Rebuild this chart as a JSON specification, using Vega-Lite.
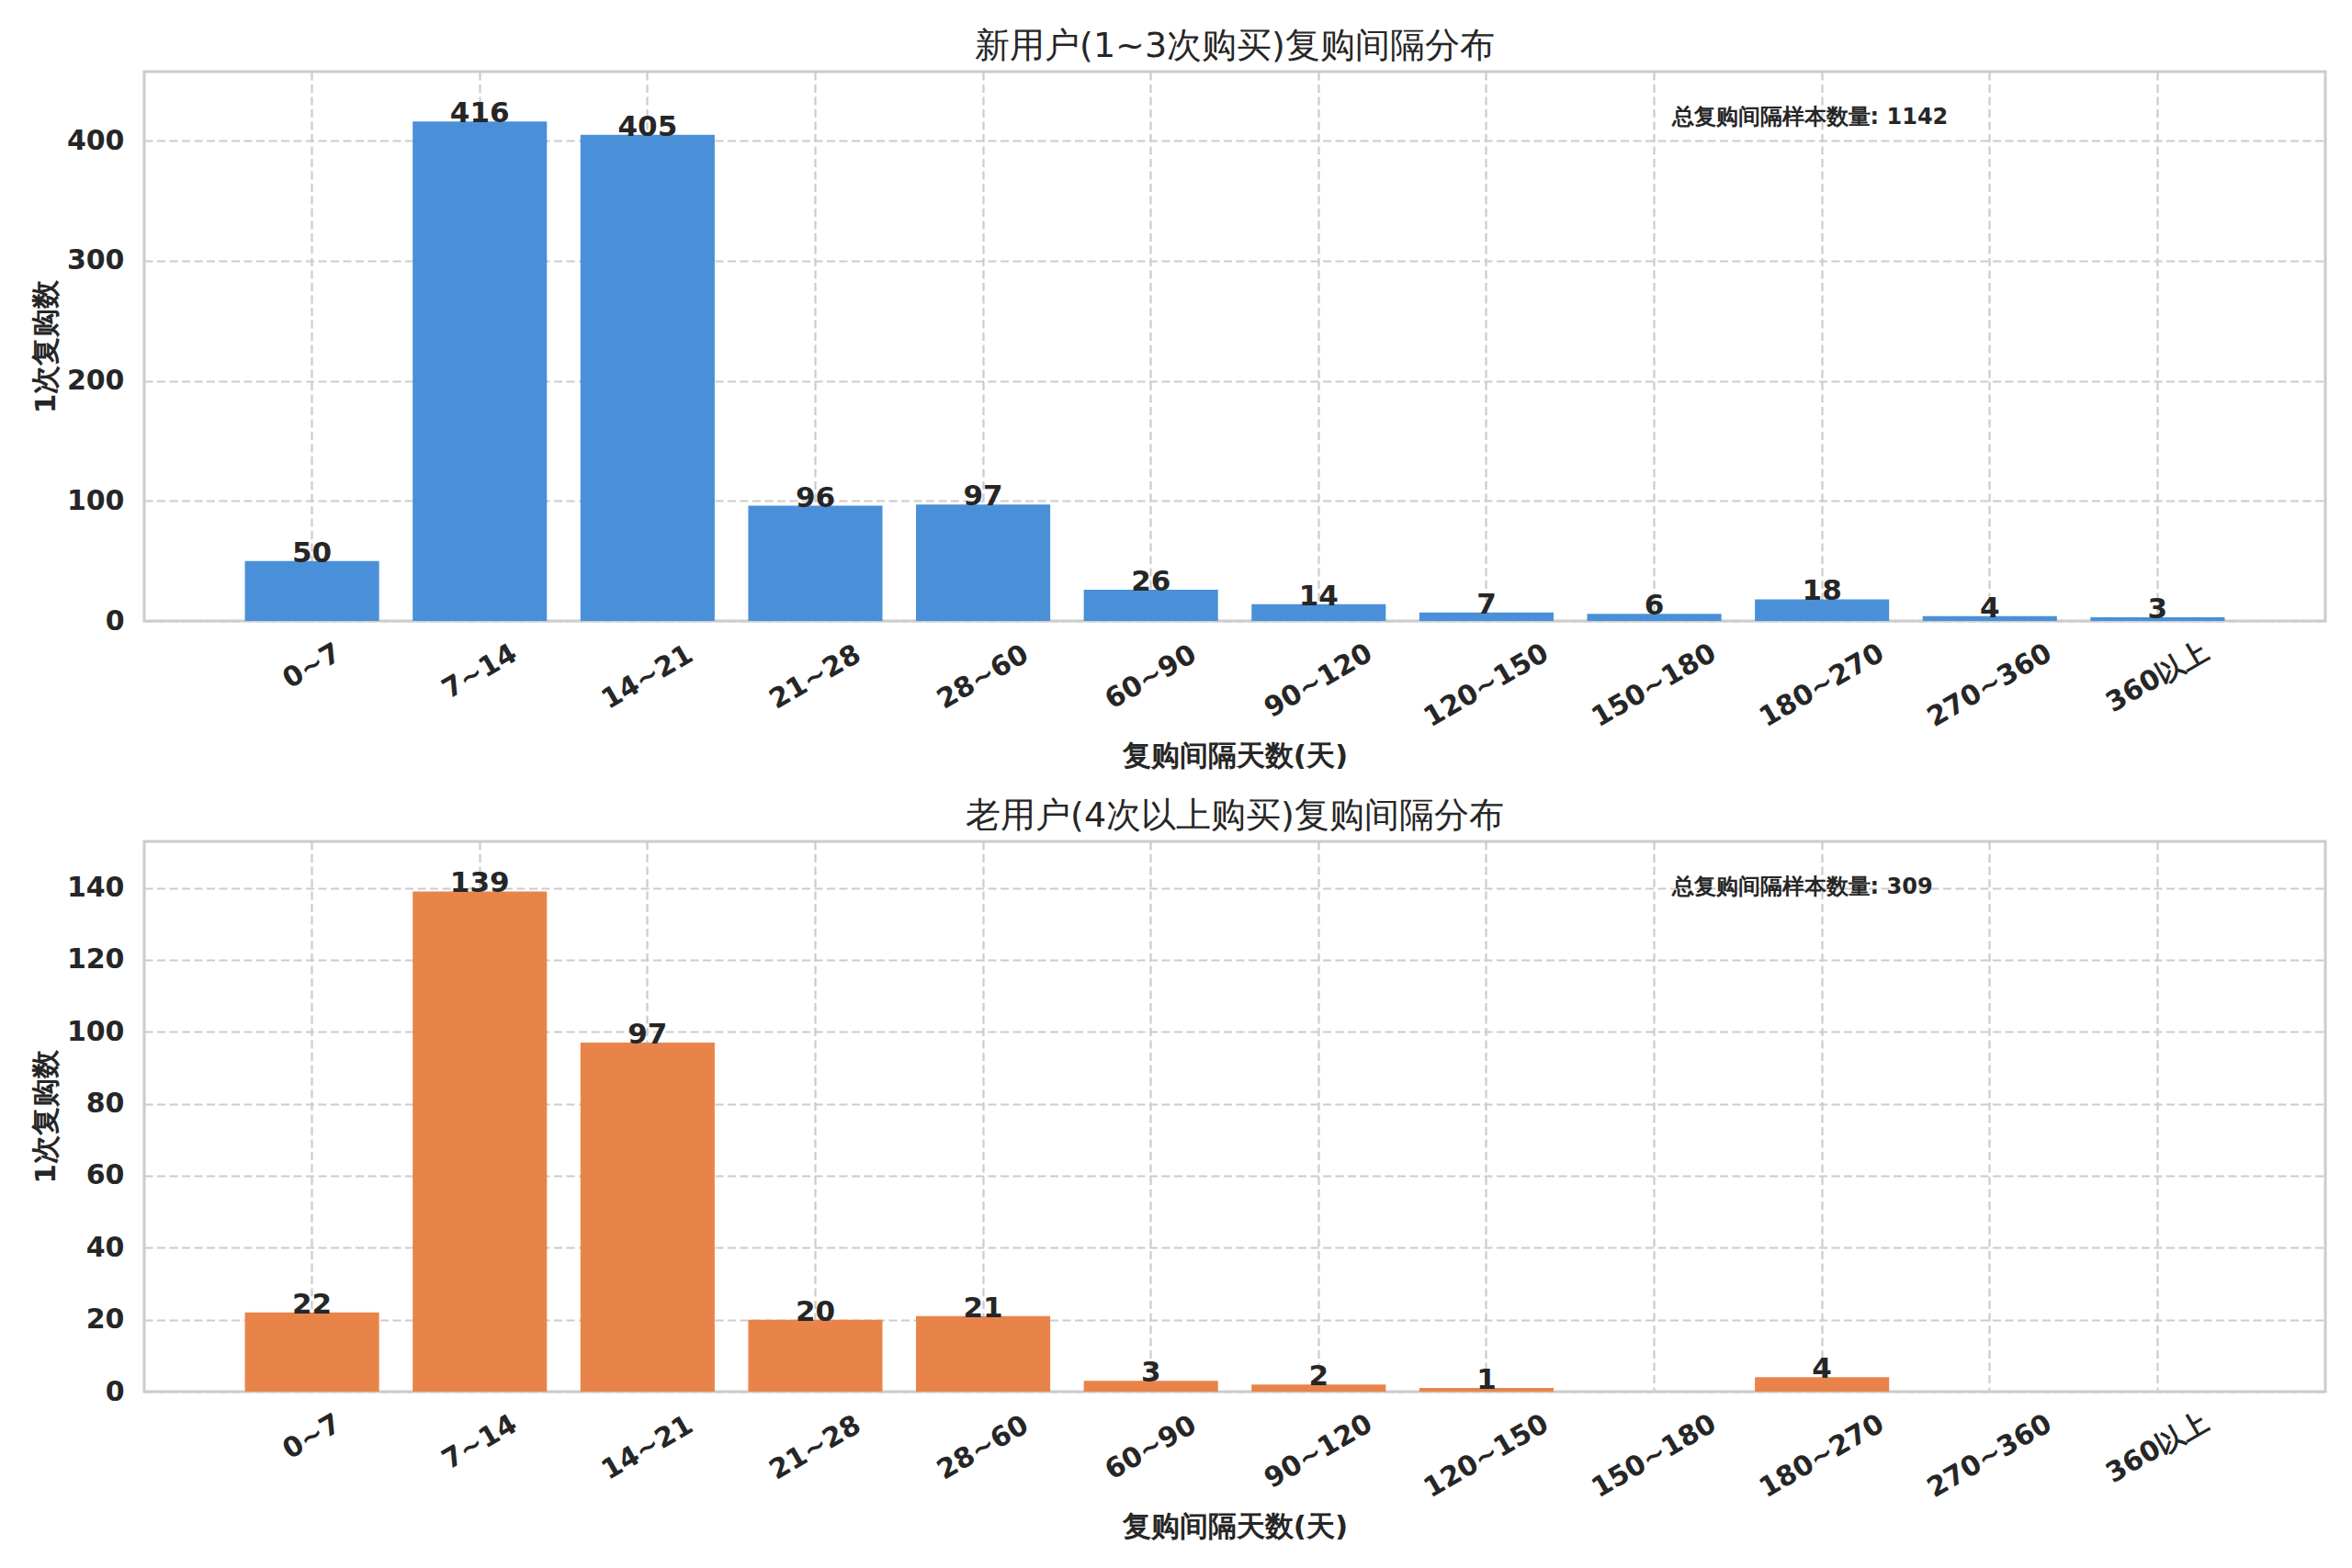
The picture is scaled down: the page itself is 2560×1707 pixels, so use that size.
{
  "$schema": "https://vega.github.io/schema/vega-lite/v6.json",
  "background": "white",
  "padding": {"left": 32, "top": 30, "right": 0, "bottom": 0},
  "spacing": 240,
  "bounds": "flush",
  "datasets": {
    "newUsers": [
      {"range": "0~7", "count": 50},
      {"range": "7~14", "count": 416},
      {"range": "14~21", "count": 405},
      {"range": "21~28", "count": 96},
      {"range": "28~60", "count": 97},
      {"range": "60~90", "count": 26},
      {"range": "90~120", "count": 14},
      {"range": "120~150", "count": 7},
      {"range": "150~180", "count": 6},
      {"range": "180~270", "count": 18},
      {"range": "270~360", "count": 4},
      {"range": "360以上", "count": 3}
    ],
    "oldUsers": [
      {"range": "0~7", "count": 22},
      {"range": "7~14", "count": 139},
      {"range": "14~21", "count": 97},
      {"range": "21~28", "count": 20},
      {"range": "28~60", "count": 21},
      {"range": "60~90", "count": 3},
      {"range": "90~120", "count": 2},
      {"range": "120~150", "count": 1},
      {"range": "150~180", "count": 0},
      {"range": "180~270", "count": 4},
      {"range": "270~360", "count": 0},
      {"range": "360以上", "count": 0}
    ]
  },
  "config": {
    "font": "DejaVu Sans",
    "view": {"stroke": "#cccccc", "strokeWidth": 3},
    "axis": {
      "labelFont": "DejaVu Sans",
      "labelFontSize": 30,
      "labelFontWeight": "bold",
      "labelColor": "#262626",
      "titleFont": "DejaVu Sans",
      "titleFontSize": 31,
      "titleFontWeight": "bold",
      "titleColor": "#262626",
      "domain": false,
      "ticks": false,
      "tickSize": 0,
      "grid": true,
      "gridColor": "#cccccc",
      "gridDash": [9, 4.5],
      "gridWidth": 2.2
    },
    "title": {
      "font": "DejaVu Sans",
      "fontSize": 38,
      "fontWeight": "normal",
      "color": "#262626",
      "anchor": "middle",
      "baseline": "bottom",
      "offset": 8
    }
  },
  "vconcat": [
    {
      "width": 2374,
      "height": 598,
      "title": "新用户(1~3次购买)复购间隔分布",
      "data": {"name": "newUsers"},
      "encoding": {
        "x": {
          "field": "range",
          "type": "nominal",
          "sort": null,
          "scale": {"paddingInner": 0.2, "paddingOuter": 0.6},
          "axis": {
            "title": "复购间隔天数(天)",
            "titlePadding": 12,
            "grid": true,
            "labelAngle": -30,
            "labelAlign": "center",
            "labelBaseline": "middle",
            "bandPosition": 0.5,
            "labelPadding": {
              "condition": [
                {"test": "length(datum.label) >= 7", "value": 70},
                {"test": "length(datum.label) == 6", "value": 65},
                {"test": "length(datum.label) == 5", "value": 61},
                {"test": "length(datum.label) == 4", "value": 55}
              ],
              "value": 49
            }
          }
        },
        "y": {
          "field": "count",
          "type": "quantitative",
          "scale": {"domain": [0, 457.6], "nice": false},
          "axis": {"title": "1次复购数", "values": [0, 100, 200, 300, 400], "labelPadding": 22, "titlePadding": 6}
        }
      },
      "layer": [
        {"mark": {"type": "bar", "color": "#4a90d9"}},
        {
          "transform": [{"filter": "datum.count > 0"}],
          "mark": {"type": "text", "baseline": "alphabetic", "dy": 1, "fontSize": 31, "fontWeight": "bold", "color": "#262626"},
          "encoding": {"text": {"field": "count", "type": "quantitative"}}
        },
        {
          "transform": [
            {"joinaggregate": [{"op": "sum", "field": "count", "as": "total"}]},
            {"filter": "datum.range == '150~180'"},
            {"calculate": "'总复购间隔样本数量: ' + datum.total", "as": "note"}
          ],
          "mark": {"type": "text", "align": "left", "baseline": "middle", "dx": 19, "fontSize": 24, "fontWeight": "bold", "color": "#262626"},
          "encoding": {
            "text": {"field": "note", "type": "nominal"},
            "y": {"datum": 419.2}
          }
        }
      ]
    },
    {
      "width": 2374,
      "height": 599,
      "title": "老用户(4次以上购买)复购间隔分布",
      "data": {"name": "oldUsers"},
      "encoding": {
        "x": {
          "field": "range",
          "type": "nominal",
          "sort": null,
          "scale": {"paddingInner": 0.2, "paddingOuter": 0.6},
          "axis": {
            "title": "复购间隔天数(天)",
            "titlePadding": 12,
            "grid": true,
            "labelAngle": -30,
            "labelAlign": "center",
            "labelBaseline": "middle",
            "bandPosition": 0.5,
            "labelPadding": {
              "condition": [
                {"test": "length(datum.label) >= 7", "value": 70},
                {"test": "length(datum.label) == 6", "value": 65},
                {"test": "length(datum.label) == 5", "value": 61},
                {"test": "length(datum.label) == 4", "value": 55}
              ],
              "value": 49
            }
          }
        },
        "y": {
          "field": "count",
          "type": "quantitative",
          "scale": {"domain": [0, 152.9], "nice": false},
          "axis": {"title": "1次复购数", "values": [0, 20, 40, 60, 80, 100, 120, 140], "labelPadding": 22, "titlePadding": 6}
        }
      },
      "layer": [
        {"mark": {"type": "bar", "color": "#e8844a"}},
        {
          "transform": [{"filter": "datum.count > 0"}],
          "mark": {"type": "text", "baseline": "alphabetic", "dy": 1, "fontSize": 31, "fontWeight": "bold", "color": "#262626"},
          "encoding": {"text": {"field": "count", "type": "quantitative"}}
        },
        {
          "transform": [
            {"joinaggregate": [{"op": "sum", "field": "count", "as": "total"}]},
            {"filter": "datum.range == '150~180'"},
            {"calculate": "'总复购间隔样本数量: ' + datum.total", "as": "note"}
          ],
          "mark": {"type": "text", "align": "left", "baseline": "middle", "dx": 19, "fontSize": 24, "fontWeight": "bold", "color": "#262626"},
          "encoding": {
            "text": {"field": "note", "type": "nominal"},
            "y": {"datum": 140.1}
          }
        }
      ]
    }
  ]
}
